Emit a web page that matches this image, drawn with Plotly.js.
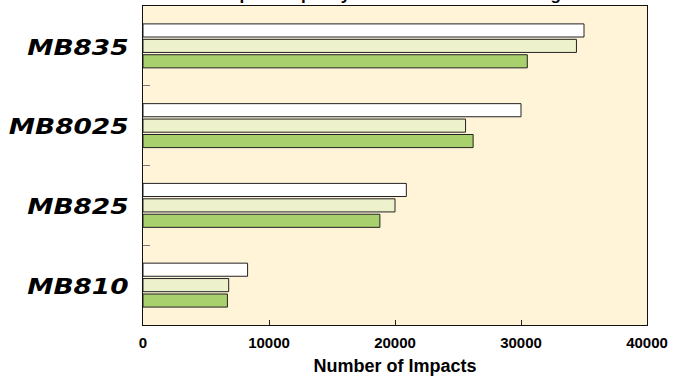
<!DOCTYPE html>
<html>
<head>
<meta charset="utf-8">
<script src="https://cdn.plot.ly/plotly-3.0.1.min.js"></script>
<style>
  html, body { margin: 0; padding: 0; background: #ffffff; }
  #chart { width: 682px; height: 378px; }
</style>
</head>
<body>
<div id="chart"></div>
<script>
// Models, listed bottom to top on the category axis
const models = ['MB810', 'MB825', 'MB8025', 'MB835'];

// Number of impacts per model, one series per setting
const seriesHigh = [8300, 20900, 30000, 35000];   // white bars (top of each group)
const seriesMid  = [6800, 20000, 25600, 34400];   // pale green bars
const seriesLow  = [6700, 18800, 26200, 30500];   // green bars (bottom of each group)

const seriesNames = ['Setting C', 'Setting B', 'Setting A'];
const xTicks = [0, 10000, 20000, 30000, 40000];

const outline = { color: '#222222', width: 1 };

// Plotly stacks grouped horizontal bars from the bottom, so the lowest bar goes first
const traces = [
  { name: seriesNames[0], y: models, x: seriesLow,  fill: '#a8d06c' },
  { name: seriesNames[1], y: models, x: seriesMid,  fill: '#edf2cc' },
  { name: seriesNames[2], y: models, x: seriesHigh, fill: '#ffffff' }
].map(s => ({
  type: 'bar',
  orientation: 'h',
  name: s.name,
  x: s.x,
  y: s.y,
  marker: { color: s.fill, line: outline },
  hoverinfo: 'x+y'
}));

const layout = {
  width: 682,
  height: 378,
  margin: { l: 143, r: 35, t: 6, b: 53, pad: 0 },
  paper_bgcolor: '#ffffff',
  plot_bgcolor: '#fff4d8',
  showlegend: false,
  barmode: 'group',
  bargap: 0.42,
  bargroupgap: 0.15,
  title: {
    text: 'Impact Capacity at Three Pressure Settings',
    font: { family: 'Liberation Sans, Arial, sans-serif', size: 17, color: '#000000', weight: 'bold' },
    x: 0.5, xref: 'paper', xanchor: 'center',
    y: 1, yref: 'container', yanchor: 'bottom'
  },
  xaxis: {
    range: [0, 40000],
    tickvals: xTicks,
    ticktext: xTicks.map(String),
    ticks: 'inside',
    ticklen: 5,
    tickcolor: '#222222',
    showgrid: false,
    zeroline: false,
    showline: true,
    linecolor: '#111111',
    linewidth: 1,
    mirror: true,
    ticklabelstandoff: 4,
    tickfont: { family: 'Liberation Sans, Arial, sans-serif', size: 15, color: '#000000', weight: 'bold' },
    title: {
      text: 'Number of Impacts',
      font: { family: 'Liberation Sans, Arial, sans-serif', size: 18, color: '#000000', weight: 'bold' },
      standoff: 9
    },
    fixedrange: true
  },
  yaxis: {
    type: 'category',
    categoryorder: 'array',
    categoryarray: models,
    tickson: 'boundaries',
    ticks: 'inside',
    ticklen: 7,
    tickcolor: '#777777',
    showgrid: false,
    zeroline: false,
    showline: true,
    linecolor: '#111111',
    linewidth: 1,
    mirror: true,
    ticklabelstandoff: 9,
    tickfont: { family: 'DejaVu Sans, sans-serif', size: 22, color: '#000000', weight: 'bold', style: 'italic' },
    fixedrange: true
  }
};

Plotly.newPlot('chart', traces, layout, { displayModeBar: false, staticPlot: true }).then(gd => {
  // Widen the model names horizontally, keeping their right edges in place
  gd.querySelectorAll('.ytick text').forEach(t => {
    const box = t.getBBox();
    const rx = box.x + box.width;
    const prev = t.getAttribute('transform') || '';
    t.setAttribute('transform', prev + ` translate(${rx},1) scale(1.2,1) translate(${-rx},0)`);
  });
});
</script>
</body>
</html>
